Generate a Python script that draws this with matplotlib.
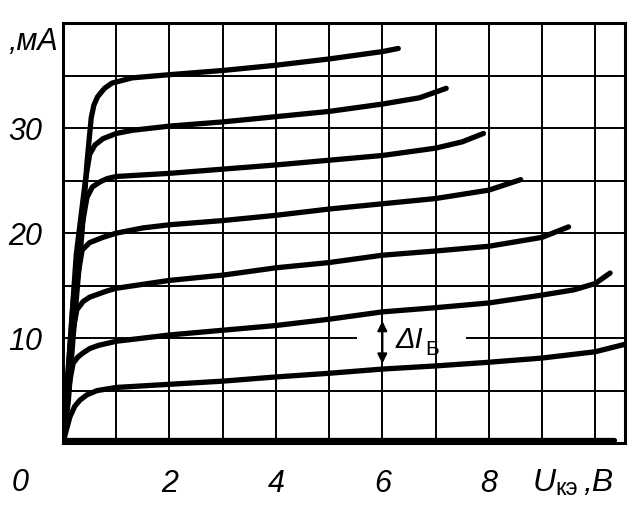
import matplotlib
matplotlib.use("Agg")
import matplotlib.pyplot as plt

plt.rcParams['font.family'] = ['Liberation Sans', 'DejaVu Sans']

# output characteristics Ic(Uce) for steps of base current
# each curve: (U, I) pairs, U in V, I in mA
u0 = [0, 10.35]
i0 = [0.3, 0.3]

u1 = [0, 0.05, 0.13, 0.22, 0.32, 0.45, 0.64, 1, 2, 3, 4, 5, 6, 7, 8, 9, 10, 10.55]
i1 = [0, 1.0, 2.5, 3.5, 4.1, 4.6, 5.0, 5.3, 5.6, 5.9, 6.3, 6.65, 7.05, 7.35, 7.7, 8.1, 8.7, 9.4]

u2 = [0, 0.08, 0.13, 0.19, 0.28, 0.38, 0.5, 0.66, 1, 2, 3, 4, 5, 6, 7, 8, 9, 9.6, 10, 10.28]
i2 = [0, 4.0, 6.0, 7.6, 8.2, 8.6, 9.0, 9.3, 9.7, 10.3, 10.75, 11.2, 11.8, 12.5, 12.9, 13.35, 14.1, 14.6, 15.2, 16.2]

u3 = [0, 0.1, 0.18, 0.26, 0.38, 0.5, 0.83, 1, 2, 3, 4, 5, 6, 7, 8, 9, 9.5]
i3 = [0, 6.0, 10.5, 12.7, 13.5, 13.9, 14.5, 14.75, 15.5, 16.0, 16.7, 17.2, 17.9, 18.3, 18.75, 19.6, 20.6]

u4 = [0, 0.15, 0.28, 0.36, 0.5, 0.75, 1, 1.5, 2, 3, 4, 5, 6, 7, 8, 8.6]
i4 = [0, 10.0, 16.0, 18.4, 19.1, 19.6, 20.0, 20.5, 20.8, 21.2, 21.7, 22.3, 22.8, 23.3, 24.1, 25.1]

u5 = [0, 0.2, 0.35, 0.45, 0.55, 0.7, 0.83, 1, 2, 3, 4, 5, 6, 7, 7.5, 7.9]
i5 = [0, 14.0, 20.5, 23.4, 24.4, 24.9, 25.2, 25.4, 25.7, 26.1, 26.5, 26.95, 27.4, 28.1, 28.7, 29.5]

u6 = [0, 0.25, 0.42, 0.5, 0.6, 0.75, 1, 1.3, 2, 3, 4, 5, 6, 6.7, 7.2]
i6 = [0, 18.0, 25.0, 27.5, 28.4, 29.0, 29.5, 29.8, 30.2, 30.6, 31.1, 31.6, 32.3, 32.9, 33.8]

u7 = [0, 0.1, 0.19, 0.28, 0.36, 0.45, 0.53, 0.58, 0.65, 0.78, 0.92, 1.3, 2, 3, 4, 5, 6, 6.3]
i7 = [0, 4.0, 10.1, 15.5, 20.3, 26.7, 31.0, 32.2, 33.0, 33.8, 34.3, 34.8, 35.1, 35.5, 36.0, 36.6, 37.3, 37.6]

curves = [(u0, i0), (u1, i1), (u2, i2), (u3, i3), (u4, i4), (u5, i5), (u6, i6), (u7, i7)]

x_ticks = [2, 4, 6, 8]
y_ticks = [10, 20, 30]
x_grid = [1, 2, 3, 4, 5, 6, 7, 8, 9, 10]
y_grid = [5, 15, 20, 25, 30, 35]   # 10 mA line is drawn broken around the label

fig = plt.figure(figsize=(6.43, 5.17), dpi=100)
ax = fig.add_axes([0.098, 0.143, 0.874, 0.812])
ax.set_xlim(0, 10.56)
ax.set_ylim(0, 40)

# grid
for x in x_grid:
    ax.axvline(x, color='k', lw=1.4, zorder=1)
for y in y_grid:
    ax.axhline(y, color='k', lw=1.4, zorder=1)
ax.plot([0, 5.5], [10, 10], color='k', lw=1.4, zorder=1)
ax.plot([7.6, 10.56], [10, 10], color='k', lw=1.4, zorder=1)

for u, i in curves:
    ax.plot(u, i, color='k', lw=3.8, solid_capstyle='round', solid_joinstyle='round', zorder=3)

# delta Ib arrow between two neighbour curves
ax.annotate('', xy=(6, 7.3), xytext=(6, 11.9),
            arrowprops=dict(arrowstyle='<|-|>', color='k', lw=1.6, mutation_scale=14))
ax.text(6.25, 9.8, 'ΔI', fontsize=21, style='italic', ha='left', va='center')
ax.text(6.8, 8.9, 'Б', fontsize=15, ha='left', va='center')

for s in ax.spines.values():
    s.set_linewidth(2.2)

ax.set_xticks(x_ticks)
ax.set_xticklabels([str(v) for v in x_ticks])
ax.set_yticks(y_ticks)
ax.set_yticklabels([str(v) for v in y_ticks])
ax.tick_params(length=0, labelsize=22)
ax.tick_params(axis='x', pad=19)
ax.tick_params(axis='y', pad=15)
for lab in ax.get_xticklabels() + ax.get_yticklabels():
    lab.set_style('italic')

# axis captions
ax.text(-0.81, -3.8, '0', fontsize=22, style='italic', ha='center', va='center', clip_on=False)
ax.text(8.83, -3.8, 'U', fontsize=23, style='italic', ha='left', va='center', clip_on=False)
ax.text(9.26, -4.4, 'кэ', fontsize=17, ha='left', va='center', clip_on=False)
ax.text(9.78, -3.8, ',В', fontsize=23, style='italic', ha='left', va='center', clip_on=False)
ax.text(-0.09, 38.2, ',мА', fontsize=22, style='italic', ha='right', va='center', clip_on=False)

fig.savefig('out.png', dpi=100)
